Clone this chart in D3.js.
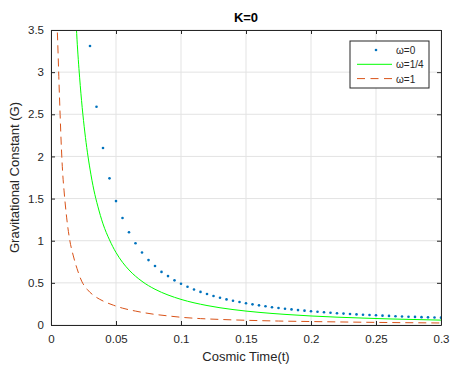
<!DOCTYPE html>
<html>
<head>
<meta charset="utf-8">
<script src="https://cdn.jsdelivr.net/npm/d3@7"></script>
<style>
  body { margin: 0; background: #fff; }
  svg text { font-family: "Liberation Sans", Arial, Helvetica, sans-serif; fill: #262626; }
</style>
</head>
<body>
<div id="chart"></div>
<script>
var width = 468;
var height = 375;

// omega = 0 (dots)
var t0 = [0.03, 0.035, 0.04, 0.045, 0.05, 0.055, 0.06, 0.065, 0.07, 0.075, 0.08, 0.085, 0.09, 0.095,
    0.1, 0.105, 0.11, 0.115, 0.12, 0.125, 0.13, 0.135, 0.14, 0.145, 0.15, 0.155, 0.16, 0.165, 0.17,
    0.175, 0.18, 0.185, 0.19, 0.195, 0.2, 0.205, 0.21, 0.215, 0.22, 0.225, 0.23, 0.235, 0.24, 0.245,
    0.25, 0.255, 0.26, 0.265, 0.27, 0.275, 0.28, 0.285, 0.29, 0.295, 0.3];
var g0 = [3.31, 2.59, 2.10, 1.74, 1.47, 1.27, 1.10, 0.97, 0.86, 0.77, 0.70, 0.63, 0.58, 0.53,
    0.49, 0.454, 0.421, 0.393, 0.367, 0.344, 0.323, 0.304, 0.287, 0.272, 0.258, 0.245, 0.233, 0.222, 0.211,
    0.202, 0.193, 0.185, 0.177, 0.170, 0.163, 0.157, 0.151, 0.145, 0.140, 0.135, 0.131, 0.126, 0.122, 0.118,
    0.115, 0.111, 0.108, 0.104, 0.101, 0.098, 0.096, 0.093, 0.091, 0.089, 0.087];

// omega = 1/4 (solid)
var t1 = [0.0195, 0.02, 0.022, 0.024, 0.026, 0.028, 0.03, 0.033, 0.036, 0.04, 0.045, 0.05, 0.055,
    0.06, 0.07, 0.08, 0.09, 0.1, 0.12, 0.14, 0.16, 0.18, 0.2, 0.22, 0.24, 0.26, 0.28, 0.3];
var g1 = [3.53, 3.39, 2.94, 2.58, 2.29, 2.05, 1.85, 1.60, 1.41, 1.20, 1.01, 0.86, 0.744,
    0.653, 0.518, 0.424, 0.356, 0.304, 0.231, 0.183, 0.150, 0.126, 0.107, 0.093, 0.082, 0.072, 0.065, 0.058];

// omega = 1 (dashed)
var t2 = [0.0049, 0.0055, 0.006, 0.007, 0.008, 0.009, 0.01, 0.012, 0.0145, 0.017, 0.02, 0.0236, 0.028,
    0.0338, 0.04, 0.048, 0.055, 0.065, 0.079, 0.09, 0.1, 0.115, 0.13, 0.15, 0.175, 0.2, 0.25, 0.3];
var g2 = [3.47, 3.2, 2.95, 2.5, 2.1, 1.8, 1.6, 1.28, 1.0, 0.83, 0.67, 0.52, 0.42,
    0.34, 0.285, 0.235, 0.2, 0.165, 0.128, 0.108, 0.092, 0.076, 0.066, 0.056, 0.047, 0.041, 0.031, 0.024];

var xTicks = [0, 0.05, 0.1, 0.15, 0.2, 0.25, 0.3];
var yTicks = [0, 0.5, 1, 1.5, 2, 2.5, 3, 3.5];
var legendLabels = ["\u03c9=0", "\u03c9=1/4", "\u03c9=1"];

var margin = {left: 51, right: 27, top: 30, bottom: 50};
var iw = width - margin.left - margin.right;
var ih = height - margin.top - margin.bottom;

var svg = d3.select('#chart').append('svg')
    .attr("width", width)
    .attr("height", height);

var x = d3.scaleLinear().domain([0, 0.3]).range([0, iw]);
var y = d3.scaleLinear().domain([0, 3.5]).range([ih, 0]);

var g = svg.append("g")
    .attr("transform", "translate(" + margin.left + "," + margin.top + ")");

// grid
g.append("g").selectAll("line").data(xTicks).enter().append("line")
    .attr("x1", d => x(d)).attr("x2", d => x(d))
    .attr("y1", 0).attr("y2", ih)
    .attr("stroke", "#e3e3e3");
g.append("g").selectAll("line").data(yTicks).enter().append("line")
    .attr("y1", d => y(d)).attr("y2", d => y(d))
    .attr("x1", 0).attr("x2", iw)
    .attr("stroke", "#e3e3e3");

g.append("clipPath").attr("id", "clip")
    .append("rect").attr("width", iw).attr("height", ih);
var plot = g.append("g").attr("clip-path", "url(#clip)");

var line = d3.line().x(d => x(d[0])).y(d => y(d[1])).curve(d3.curveMonotoneX);

plot.append("path")
    .datum(d3.zip(t1, g1))
    .attr("d", line)
    .attr("fill", "none")
    .attr("stroke", "#00ff00")
    .attr("stroke-width", 1);

plot.append("path")
    .datum(d3.zip(t2, g2))
    .attr("d", line)
    .attr("fill", "none")
    .attr("stroke", "#d95319")
    .attr("stroke-width", 1)
    .attr("stroke-dasharray", "8,5");

plot.append("g").selectAll("circle")
    .data(d3.zip(t0, g0)).enter().append("circle")
    .attr("cx", d => x(d[0]))
    .attr("cy", d => y(d[1]))
    .attr("r", 1.3)
    .attr("fill", "#0072bd");

// axes
var axB = g.append("g").attr("transform", "translate(0," + ih + ")")
    .call(d3.axisBottom(x).tickValues(xTicks).tickSizeInner(-4).tickSizeOuter(0).tickPadding(10)
        .tickFormat(d3.format("~g")));
var axT = g.append("g")
    .call(d3.axisTop(x).tickValues(xTicks).tickSizeInner(-4).tickSizeOuter(0).tickFormat(""));
var axL = g.append("g")
    .call(d3.axisLeft(y).tickValues(yTicks).tickSizeInner(-4).tickSizeOuter(0).tickPadding(7)
        .tickFormat(d3.format("~g")));
var axR = g.append("g").attr("transform", "translate(" + iw + ",0)")
    .call(d3.axisRight(y).tickValues(yTicks).tickSizeInner(-4).tickSizeOuter(0).tickFormat(""));

[axB, axT, axL, axR].forEach(function(a) {
    a.select(".domain").attr("stroke", "#262626");
    a.selectAll(".tick line").attr("stroke", "#262626");
    a.selectAll("text").style("font-size", "11.5px").attr("fill", "#262626");
});

// title and labels
svg.append("text")
    .attr("x", margin.left + iw / 2).attr("y", 22)
    .attr("text-anchor", "middle")
    .style("font-size", "13px").style("font-weight", "bold")
    .style("fill", "#000")
    .text("K=0");

svg.append("text")
    .attr("x", margin.left + iw / 2).attr("y", 361)
    .attr("text-anchor", "middle")
    .style("font-size", "13px")
    .text("Cosmic Time(t)");

svg.append("text")
    .attr("transform", "translate(19," + (margin.top + ih / 2) + ") rotate(-90)")
    .attr("text-anchor", "middle")
    .style("font-size", "13px")
    .text("Gravitational Constant (G)");

// legend
var leg = svg.append("g").attr("transform", "translate(350,41)");
leg.append("rect")
    .attr("width", 79).attr("height", 47)
    .attr("fill", "#fff").attr("stroke", "#262626").attr("stroke-width", 1);

var rows = leg.selectAll("g.row").data(legendLabels).enter().append("g")
    .attr("class", "row")
    .attr("transform", (d, i) => "translate(0," + (9 + i * 14.3) + ")");

rows.append("text")
    .attr("x", 46).attr("y", 4)
    .style("font-size", "10px")
    .text(d => d);

leg.append("circle").attr("cx", 26).attr("cy", 9).attr("r", 1.3).attr("fill", "#0072bd");
leg.append("line").attr("x1", 7).attr("x2", 42).attr("y1", 23.3).attr("y2", 23.3)
    .attr("stroke", "#00ff00");
leg.append("line").attr("x1", 7).attr("x2", 42).attr("y1", 37.6).attr("y2", 37.6)
    .attr("stroke", "#d95319").attr("stroke-dasharray", "8,5.5");
</script>
</body>
</html>
